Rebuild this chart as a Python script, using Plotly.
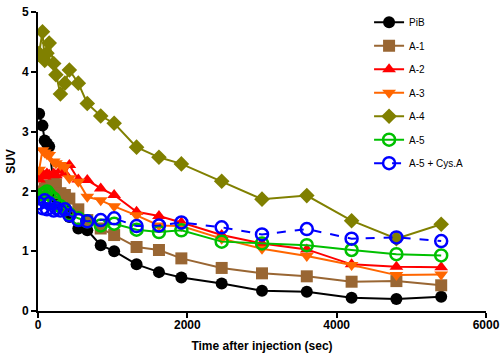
import plotly.graph_objects as go

time_sec = [15, 60, 90, 120, 150, 210, 240, 300, 360, 420, 540, 660, 840, 1020,
            1320, 1620, 1920, 2460, 3000, 3600, 4200, 4800, 5400]

pib = [3.30, 3.10, 2.85, 2.80, 2.75, 2.10, 1.90, 1.80, 1.70, 1.57, 1.38, 1.35, 1.10, 1.00,
       0.78, 0.65, 0.56, 0.46, 0.34, 0.32, 0.22, 0.20, 0.24]
a1 = [1.95, 2.00, 2.05, 2.08, 2.10, 2.13, 2.12, 1.97, 1.94, 1.88, 1.70, 1.52, 1.38, 1.27,
      1.07, 1.02, 0.88, 0.72, 0.63, 0.58, 0.49, 0.50, 0.43]
a2 = [2.20, 2.30, 2.25, 2.30, 2.28, 2.30, 2.27, 2.35, 2.30, 2.44, 2.20, 2.19, 2.05, 1.94,
      1.66, 1.59, 1.48, 1.27, 1.13, 1.03, 0.78, 0.74, 0.73]
a3 = [2.36, 2.69, 2.65, 2.62, 2.61, 2.50, 2.47, 2.44, 2.41, 2.22, 2.16, 1.91, 1.85, 1.75,
      1.60, 1.43, 1.42, 1.21, 1.04, 0.92, 0.77, 0.60, 0.61]
a4 = [4.31, 4.67, 4.19, 4.31, 4.48, 4.14, 3.95, 3.63, 3.81, 4.03, 3.81, 3.47, 3.26, 3.14,
      2.74, 2.57, 2.46, 2.17, 1.87, 1.93, 1.51, 1.21, 1.45]
a5 = [1.90, 1.95, 1.97, 2.00, 1.95, 1.88, 1.80, 1.75, 1.70, 1.62, 1.55, 1.50, 1.43, 1.46,
      1.36, 1.32, 1.35, 1.16, 1.13, 1.10, 1.02, 0.95, 0.93]
a5_cys = [1.80, 1.72, 1.85, 1.70, 1.80, 1.68, 1.72, 1.68, 1.70, 1.60, 1.52, 1.50, 1.52, 1.55,
          1.42, 1.43, 1.48, 1.40, 1.28, 1.37, 1.21, 1.23, 1.17]

series = [
    ("PiB", pib, "#000000", "circle", "solid"),
    ("A-1", a1, "#996633", "square", "solid"),
    ("A-2", a2, "#FF0000", "triangle-up", "solid"),
    ("A-3", a3, "#FF6600", "triangle-down", "solid"),
    ("A-4", a4, "#808000", "diamond", "solid"),
    ("A-5", a5, "#00C000", "circle-open", "solid"),
    ("A-5 + Cys.A", a5_cys, "#0000FF", "circle-open", "dash"),
]

fig = go.Figure()
for name, vals, color, sym, dash in series:
    openm = sym.endswith("open")
    fig.add_trace(go.Scatter(
        x=time_sec, y=vals, name=name, mode="lines+markers",
        legendgroup=name,
        line=dict(color=color, width=2, dash=dash),
        marker=dict(symbol=sym, size=12, color=color,
                    line=dict(color=color, width=2.5 if openm else 0)),
    ))

H, T, B = 357, 12, 46
axis_font = dict(family="Liberation Sans, Arial, sans-serif", size=12, color="#000", weight="bold")
fig.update_layout(
    width=500, height=H,
    margin=dict(l=38, r=14, t=0, b=B),
    plot_bgcolor="white", paper_bgcolor="white",
    font=dict(family="Liberation Sans, Arial, sans-serif", color="#000"),
    showlegend=True,
    legend=dict(x=0.739, y=1 - 7.7 / (H - B), xanchor="left", yanchor="top",
                font=dict(size=10), bgcolor="rgba(0,0,0,0)",
                tracegroupgap=4.5, traceorder="grouped"),
    xaxis=dict(range=[0, 6000], tickvals=[0, 2000, 4000, 6000], automargin=False,
               showline=True, linecolor="#000", linewidth=2,
               ticks="outside", tickwidth=2, ticklen=5, tickcolor="#000",
               ticklabelstandoff=-3,
               showgrid=False, zeroline=False, tickfont=axis_font,
               title=dict(text="Time after injection (sec)", font=axis_font, standoff=10)),
    yaxis=dict(range=[0, 5], tickvals=[0, 1, 2, 3, 4, 5], automargin=False,
               domain=[0, 1 - T / (H - B)],
               showline=True, linecolor="#000", linewidth=2,
               ticks="outside", tickwidth=2, ticklen=5, tickcolor="#000",
               showgrid=False, zeroline=False, tickfont=axis_font,
               title=dict(text="SUV", font=axis_font, standoff=4)),
)

fig.write_html("out.html", config={"displayModeBar": False},
               post_script="document.body.style.margin='0';")
